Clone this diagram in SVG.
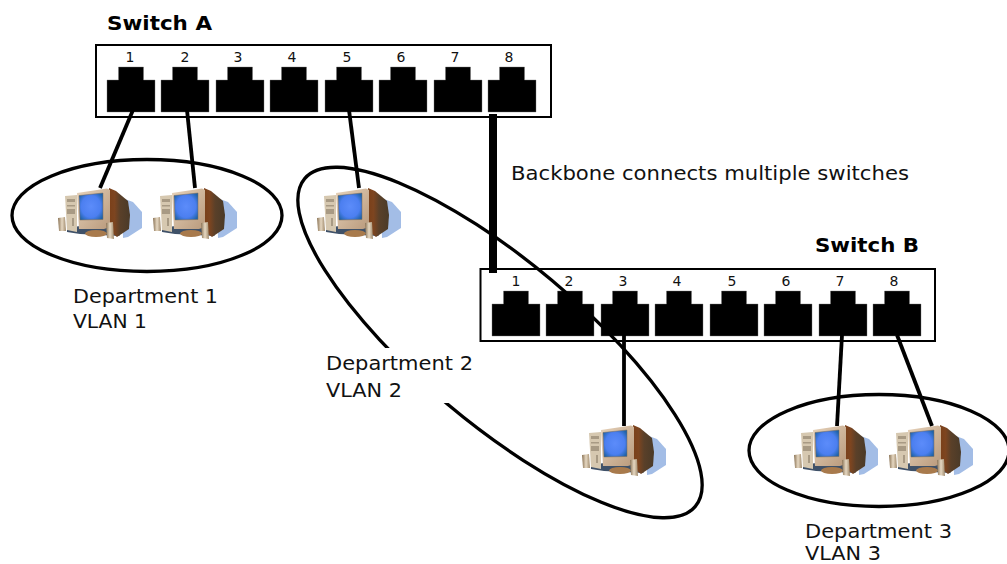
<svg xmlns="http://www.w3.org/2000/svg" width="1007" height="564" viewBox="0 0 1007 564">
<style>
text{font-family:"DejaVu Sans",Verdana,sans-serif;fill:#111}
.lbl{font-size:20px}
.b{font-size:19px;font-weight:bold;fill:#000}
.n{font-size:14px;text-anchor:middle}
.sw{fill:#fff;stroke:#000;stroke-width:2}
.oval{fill:none;stroke:#000;stroke-width:3.3}
.wire{stroke:#000;stroke-width:3.8;fill:none}
</style>
<defs>
<radialGradient id="scr" cx="0.5" cy="0.5" r="0.62"><stop offset="0" stop-color="#5c8cfa"/><stop offset="0.65" stop-color="#4c7ff0"/><stop offset="1" stop-color="#1f63a8"/></radialGradient>
<linearGradient id="body" x1="0" y1="0" x2="1" y2="0"><stop offset="0" stop-color="#7a3f18"/><stop offset="0.3" stop-color="#7d4520"/><stop offset="0.55" stop-color="#5a4029"/><stop offset="1" stop-color="#4a3a28"/></linearGradient>
<linearGradient id="front" x1="0" y1="0" x2="1" y2="1"><stop offset="0" stop-color="#e6d2ba"/><stop offset="1" stop-color="#b99a7c"/></linearGradient>
<linearGradient id="spk" x1="0" y1="0" x2="1" y2="0"><stop offset="0" stop-color="#8a7355"/><stop offset="0.5" stop-color="#e6d8c2"/><stop offset="1" stop-color="#a08a6c"/></linearGradient>
<path id="port" d="M-12.5 0H12.500V13H24V45H-24V13H-12.500Z" fill="#000" stroke="#777" stroke-width="0.4"/>
<g id="pc">
<path d="M72 28L83 32L92 42L92 58L78 67L73 68Z" fill="#a3bde6"/>
<path d="M17 58L30 56L62 58L70 66L30 64L17 62Z" fill="#3f5168"/>
<path d="M15 26L27 25V62L17 60Z" fill="#d6c8b0"/>
<path d="M17 29H25V32H17ZM17 35H25V36.500H17ZM17 39H25V44H17Z" fill="#a89a84"/>
<path d="M22 48H24V56H22Z" fill="#a89a84"/>
<ellipse cx="46" cy="63.500" rx="11" ry="3.500" fill="#a87a4c"/>
<path d="M59 18L66 21L78 31L80 45L79 59L67 67L58 60Z" fill="url(#body)"/>
<path d="M27 23L57 18.500L60 20L60 57L54 59H29Z" fill="url(#front)"/>
<path d="M29 25.500L53 23V49.500L30 50Z" fill="url(#scr)" stroke="#7d6a56" stroke-width="0.5"/>
<path d="M8 48L15 47L16 61L9 61Z" fill="url(#spk)"/>
<path d="M56 53L63 52L64 69L57 68Z" fill="url(#spk)"/>
</g>
</defs>
<g id="switch-a">
<rect class="sw" x="96" y="45" width="455" height="72"/>
<use href="#port" x="131" y="67"/><use href="#port" x="185" y="67"/><use href="#port" x="240" y="67"/><use href="#port" x="294" y="67"/><use href="#port" x="349" y="67"/><use href="#port" x="403" y="67"/><use href="#port" x="458" y="67"/><use href="#port" x="512" y="67"/>
<text class="n" x="130" y="62">1</text><text class="n" x="185" y="62">2</text><text class="n" x="238" y="62">3</text><text class="n" x="292" y="62">4</text><text class="n" x="347" y="62">5</text><text class="n" x="401" y="62">6</text><text class="n" x="455" y="62">7</text><text class="n" x="509" y="62">8</text>
</g>
<g id="switch-b">
<rect class="sw" x="480.500" y="269" width="454.500" height="72"/>
<use href="#port" x="516" y="291"/><use href="#port" x="570" y="291"/><use href="#port" x="625" y="291"/><use href="#port" x="679" y="291"/><use href="#port" x="734" y="291"/><use href="#port" x="788" y="291"/><use href="#port" x="843" y="291"/><use href="#port" x="897" y="291"/>
<text class="n" x="516" y="286">1</text><text class="n" x="569" y="286">2</text><text class="n" x="623" y="286">3</text><text class="n" x="677" y="286">4</text><text class="n" x="732" y="286">5</text><text class="n" x="786" y="286">6</text><text class="n" x="840" y="286">7</text><text class="n" x="894" y="286">8</text>
</g>
<g id="ovals">
<ellipse class="oval" cx="147" cy="215.500" rx="135" ry="56"/>
<ellipse class="oval" cx="500" cy="342.500" rx="255" ry="81" transform="rotate(40 500 342.500)"/>
<ellipse class="oval" cx="879" cy="450.500" rx="130" ry="56"/>
</g>
<g id="label-gap"><rect x="322" y="348" width="156" height="55" fill="#fff"/></g>
<g id="connectors">
<line class="wire" x1="133" y1="110" x2="100" y2="188"/>
<line class="wire" x1="187" y1="110" x2="195" y2="188"/>
<line class="wire" x1="349" y1="110" x2="359" y2="188"/>
<line x1="493" y1="114" x2="493" y2="273" stroke="#000" stroke-width="8"/>
<line class="wire" x1="624" y1="335" x2="624" y2="426"/>
<line class="wire" x1="842" y1="335" x2="837" y2="426"/>
<line class="wire" x1="897" y1="335" x2="932" y2="426"/>
</g>
<g id="pc-1"><use href="#pc" x="50" y="170"/></g>
<g id="pc-2"><use href="#pc" x="145" y="170"/></g>
<g id="pc-3"><use href="#pc" x="309" y="170"/></g>
<g id="pc-4"><use href="#pc" x="574" y="407"/></g>
<g id="pc-5"><use href="#pc" x="786" y="407"/></g>
<g id="pc-6"><use href="#pc" x="881" y="407"/></g>
<g id="labels">
<text class="b" x="107" y="30" textLength="105" lengthAdjust="spacingAndGlyphs">Switch A</text>
<text class="b" x="815" y="252" textLength="104" lengthAdjust="spacingAndGlyphs">Switch B</text>
<text class="lbl" x="511" y="180" textLength="398" lengthAdjust="spacingAndGlyphs">Backbone connects multiple switches</text>
<text class="lbl" x="73" y="302.500" textLength="145" lengthAdjust="spacingAndGlyphs">Department 1</text><text class="lbl" x="73" y="328" textLength="74" lengthAdjust="spacingAndGlyphs">VLAN 1</text>
<text class="lbl" x="326" y="370" textLength="147" lengthAdjust="spacingAndGlyphs">Department 2</text><text class="lbl" x="326" y="397" textLength="76" lengthAdjust="spacingAndGlyphs">VLAN 2</text>
<text class="lbl" x="805" y="537.500" textLength="147" lengthAdjust="spacingAndGlyphs">Department 3</text><text class="lbl" x="805" y="560" textLength="76" lengthAdjust="spacingAndGlyphs">VLAN 3</text>
</g>
</svg>
